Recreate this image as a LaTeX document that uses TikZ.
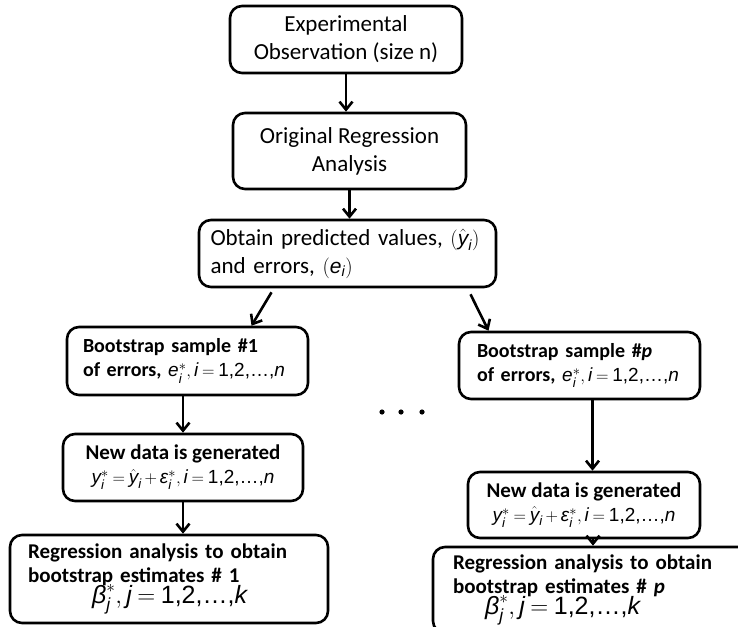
\documentclass[tikz,border=0pt]{standalone}
\usepackage{amsmath}
\usepackage{fontspec}
\setmainfont{Carlito}
\newfontfamily\eqfont{Liberation Sans}
\usetikzlibrary{positioning,calc,arrows.meta}
\newcommand{\vi}[1]{\text{\eqfont\mdseries\itshape #1}}
\newcommand{\vu}[1]{\text{\eqfont\mdseries #1}}
\newcommand{\eqsize}{\fontsize{19}{24}\selectfont\thickmuskip=4mu\medmuskip=3mu}

\begin{document}
\begin{tikzpicture}[x=1pt, y=-1pt,
  stepbox/.style={draw, line width=2.6pt, rounded corners=12pt, inner sep=0pt,
             font=\fontsize{23}{28}\selectfont},
  bootbox/.style={draw, line width=2.6pt, rounded corners=12pt, inner sep=0pt,
             font=\fontsize{21}{24}\selectfont\bfseries},
  arr/.style={line width=2.6pt, -{Straight Barb[length=8pt,width=13pt]}},
]
\useasboundingbox (0,0) rectangle (738,626);
\clip (0,0) rectangle (738,626);

\node[stepbox, minimum width=232pt, minimum height=67pt, align=center]
  (exp)  at (346, 39.5)  {Experimental\\Observation (size n)};
\node[stepbox, minimum width=233pt, minimum height=76pt, align=center]
  (orig) at (349.5, 151) {Original Regression\\Analysis};
\node[stepbox, minimum width=297pt, minimum height=67pt, align=left, text width=274pt]
  (obt)  at (347.5, 253.5)
  {\mbox{Obtain predicted values, {\fontsize{21}{28}\selectfont$(\hat{\vi{y}}_{\vi{i}})$}}\\and errors, {\fontsize{21}{28}\selectfont$(\vi{e}_{\vi{i}})$}};

% left branch
\node[bootbox, minimum width=241pt, minimum height=68pt, align=left, text width=209pt,
      font=\fontsize{20}{24}\selectfont\bfseries]
  (bs1) at (187.5, 361)
  {Bootstrap sample \#1\\\mbox{of errors, {\eqsize$\vi{e}^{*}_{\vi{i}}, \vi{i} = \vu{1,2,…,}\vi{n}$}}};
\node[bootbox, minimum width=240pt, minimum height=67pt, align=center]
  (nd1) at (183, 467.5)
  {New data is generated\\{\eqsize$\vi{y}^{*}_{\vi{i}} = \hat{\vi{y}}_{\vi{i}} + \vi{ε}^{*}_{\vi{i}}, \vi{i} = \vu{1,2,…,}\vi{n}$}};
\node[bootbox, minimum width=318pt, minimum height=88pt, align=left, text width=282pt]
  (rg1) at (169, 579)
  {Regression analysis to obtain\\bootstrap estimates \# 1\\[-3pt]
   \hspace*{64pt}{\fontsize{25}{25}\selectfont\mdseries\thickmuskip=4mu$\vi{β}^{*}_{\vi{j}}, \vi{j} = \vu{1,2,…,}\vi{k}$}};

% right branch
\node[bootbox, minimum width=241pt, minimum height=67pt, align=left, text width=205pt,
      font=\fontsize{20}{24}\selectfont\bfseries]
  (bsp) at (579.5, 365.5)
  {Bootstrap sample \#\textit{p}\\\mbox{of errors, {\eqsize$\vi{e}^{*}_{\vi{i}}, \vi{i} = \vu{1,2,…,}\vi{n}$}}};
\node[bootbox, minimum width=232pt, minimum height=66pt, align=center]
  (ndp) at (584, 505)
  {New data is generated\\{\eqsize$\vi{y}^{*}_{\vi{i}} = \hat{\vi{y}}_{\vi{i}} + \vi{ε}^{*}_{\vi{i}}, \vi{i} = \vu{1,2,…,}\vi{n}$}};
\node[bootbox, minimum width=330pt, minimum height=86pt, align=left, text width=290pt]
  (rgp) at (598, 590)
  {Regression analysis to obtain\\bootstrap estimates \# \textit{p}\\[-3pt]
   \hspace*{32pt}{\fontsize{25}{25}\selectfont\mdseries\thickmuskip=4mu$\vi{β}^{*}_{\vi{j}}, \vi{j} = \vu{1,2,…,}\vi{k}$}};

\foreach \x in {382,401,422}
  \fill (\x,412) circle (2.6pt);

\draw[arr] (exp.south) -- (exp.south |- orig.north);
\draw[arr] (orig.south) -- (orig.south |- obt.north);
\draw[arr] ([xshift=-76pt,yshift=-4pt]obt.south) -- ([xshift=64pt]bs1.north);
\draw[arr] ([xshift=123pt,yshift=-6pt]obt.south) -- ([xshift=-91pt]bsp.north);
\draw[arr] (nd1 |- bs1.south) -- (nd1.north);
\draw[arr] (nd1.south) -- (nd1.south |- rg1.north);
\draw[arr] ([xshift=13pt]bsp.south) -- ([xshift=13pt]bsp.south |- ndp.north);
\draw[arr] ([xshift=9pt]ndp.south) -- ([xshift=9pt]ndp.south |- rgp.north);
\end{tikzpicture}
\end{document}
